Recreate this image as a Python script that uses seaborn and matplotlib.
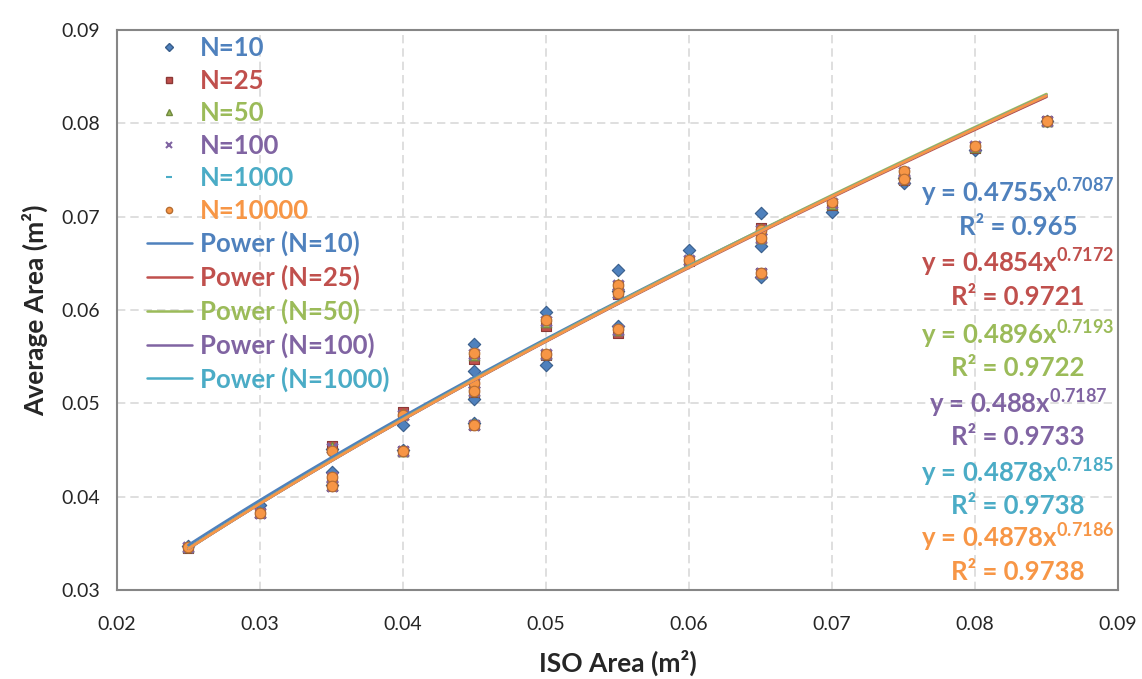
import numpy as np
import pandas as pd
import matplotlib
matplotlib.use("Agg")
import matplotlib.pyplot as plt
from matplotlib.lines import Line2D
import seaborn as sns

# ---------------- data ----------------
series_names = ["N=10", "N=25", "N=50", "N=100", "N=1000", "N=10000"]
iso_area = [0.025, 0.030, 0.035, 0.035, 0.035, 0.040, 0.040, 0.045, 0.045, 0.045, 0.045,
            0.050, 0.050, 0.055, 0.055, 0.055, 0.060, 0.065, 0.065, 0.065, 0.070,
            0.075, 0.075, 0.080, 0.085]
avg_n10 = [0.0347, 0.0391, 0.0451, 0.0426, 0.0413, 0.0477, 0.0450, 0.0564, 0.0535, 0.0505, 0.0479,
           0.0598, 0.0541, 0.0643, 0.0620, 0.0583, 0.0664, 0.0704, 0.0669, 0.0635, 0.0705,
           0.0736, 0.0741, 0.0771, 0.0802]
avg_n25 = [0.0345, 0.0383, 0.0454, 0.0420, 0.0411, 0.0491, 0.0449, 0.0547, 0.0520, 0.0512, 0.0477,
           0.0583, 0.0552, 0.0625, 0.0617, 0.0575, 0.0653, 0.0688, 0.0678, 0.0640, 0.0712,
           0.0745, 0.0739, 0.0774, 0.0803]
avg_n50 = [0.0346, 0.0384, 0.0453, 0.0421, 0.0412, 0.0489, 0.0449, 0.0552, 0.0523, 0.0513, 0.0478,
           0.0587, 0.0553, 0.0628, 0.0619, 0.0579, 0.0655, 0.0687, 0.0677, 0.0640, 0.0714,
           0.0748, 0.0740, 0.0775, 0.0803]
avg_n100 = [0.0346, 0.0383, 0.0452, 0.0421, 0.0411, 0.0488, 0.0449, 0.0553, 0.0522, 0.0513, 0.0477,
            0.0588, 0.0553, 0.0627, 0.0618, 0.0579, 0.0654, 0.0686, 0.0677, 0.0640, 0.0715,
            0.0748, 0.0740, 0.0776, 0.0803]
avg_n1000 = [0.0346, 0.0383, 0.0450, 0.0421, 0.0411, 0.0488, 0.0449, 0.0554, 0.0522, 0.0513, 0.0477,
             0.0589, 0.0553, 0.0627, 0.0618, 0.0580, 0.0654, 0.0686, 0.0677, 0.0640, 0.0716,
             0.0749, 0.0740, 0.0776, 0.0803]
avg_n10000 = [0.0346, 0.0383, 0.0449, 0.0421, 0.0411, 0.0488, 0.0449, 0.0554, 0.0522, 0.0513, 0.0477,
              0.0589, 0.0553, 0.0627, 0.0618, 0.0580, 0.0654, 0.0686, 0.0677, 0.0640, 0.0716,
              0.0749, 0.0740, 0.0776, 0.0803]
series_values = [avg_n10, avg_n25, avg_n50, avg_n100, avg_n1000, avg_n10000]

# power trendline coefficients y = a * x^b
coef_a = [0.4755, 0.4854, 0.4896, 0.488, 0.4878, 0.4878]
coef_b = [0.7087, 0.7172, 0.7193, 0.7187, 0.7185, 0.7186]
r_squared = [0.965, 0.9721, 0.9722, 0.9733, 0.9738, 0.9738]
a_labels = ["0.4755", "0.4854", "0.4896", "0.488", "0.4878", "0.4878"]
b_labels = ["0.7087", "0.7172", "0.7193", "0.7187", "0.7185", "0.7186"]
r2_labels = ["0.965", "0.9721", "0.9722", "0.9733", "0.9738", "0.9738"]

x_ticks = [0.02, 0.03, 0.04, 0.05, 0.06, 0.07, 0.08, 0.09]
y_ticks = [0.03, 0.04, 0.05, 0.06, 0.07, 0.08, 0.09]

# ---------------- style ----------------
colors = ["#4F81BD", "#C0504D", "#9BBB59", "#8064A2", "#4BACC6", "#F79646"]
edge_colors = ["#385D8A", "#8C3836", "#71893F", "#5C4776", "#357D91", "#B66D31"]
markers = ["D", "s", "^", "x", "_", "o"]

sns.set_theme(style="white")
FONT = "Lato"
plt.rcParams["font.family"] = [FONT, "DejaVu Sans"]
plt.rcParams["mathtext.fontset"] = "custom"
plt.rcParams["mathtext.rm"] = FONT + ":bold"
plt.rcParams["mathtext.bf"] = FONT + ":bold"
plt.rcParams["mathtext.it"] = FONT + ":bold"
plt.rcParams["mathtext.default"] = "rm"

fig = plt.figure(figsize=(11.42, 6.79), dpi=100)
ax = fig.add_axes([117 / 1142, 1 - 590 / 679, (1118 - 117) / 1142, (590 - 30) / 679])

rows = []
for name, vals in zip(series_names, series_values):
    for xv, yv in zip(iso_area, vals):
        rows.append({"iso": xv, "avg": yv, "series": name})
df = pd.DataFrame(rows)

for i, name in enumerate(series_names):
    sub = df[df["series"] == name]
    if markers[i] in ("x", "_"):
        sns.scatterplot(data=sub, x="iso", y="avg", marker=markers[i], color=colors[i],
                        s=55, linewidth=2.2, ax=ax, legend=False, zorder=3 + i)
    else:
        sns.scatterplot(data=sub, x="iso", y="avg", marker=markers[i], color=colors[i],
                        edgecolor=edge_colors[i], s=58 if markers[i] != "D" else 40,
                        linewidth=0.8, ax=ax, legend=False, zorder=3 + i)

# trendlines
x_min, x_max = min(iso_area), max(iso_area)
for i, name in enumerate(series_names):
    xs = np.linspace(x_min, x_max, 100)
    ys = coef_a[i] * xs ** coef_b[i]
    tl = pd.DataFrame({"x": xs, "y": ys})
    sns.lineplot(data=tl, x="x", y="y", color=colors[i], linewidth=2.0, ax=ax,
                 legend=False, zorder=10 + i)

ax.set_xlim(0.02, 0.09)
ax.set_ylim(0.03, 0.09)
ax.set_xticks(x_ticks)
ax.set_yticks(y_ticks)
ax.set_xticklabels([f"{t:.2f}" for t in x_ticks])
ax.set_yticklabels([f"{t:.2f}" for t in y_ticks])
ax.tick_params(axis="both", labelsize=14, labelcolor="#262626", length=5, width=1.2,
               color="#868686", direction="out")
ax.tick_params(axis="y", pad=7)
ax.tick_params(axis="x", pad=14)
ax.grid(True, color="#D9D9D9", linestyle=(0, (5, 3)), linewidth=1.2)
ax.set_axisbelow(True)
for sp in ax.spines.values():
    sp.set_color("#868686")
    sp.set_linewidth(1.5)

ax.set_xlabel("ISO Area (m²)", fontsize=19, fontweight="bold", color="#262626", labelpad=12)
ax.set_ylabel("Average Area (m²)", fontsize=19, fontweight="bold", color="#262626", labelpad=10)

# legend
handles = []
labels = []
for i, name in enumerate(series_names):
    if markers[i] in ("x", "_"):
        h = Line2D([], [], marker=markers[i], linestyle="", color=colors[i],
                   markersize=5, markeredgewidth=1.5)
    else:
        h = Line2D([], [], marker=markers[i], linestyle="", color=colors[i],
                   markeredgecolor=edge_colors[i], markersize=4.5 if markers[i] != "D" else 4)
    handles.append(h)
    labels.append(name)
for i in range(5):
    handles.append(Line2D([], [], color=colors[i], linewidth=1.8))
    labels.append(f"Power ({series_names[i]})")
leg = ax.legend(handles, labels, loc="upper left", bbox_to_anchor=(0.012, 1.021),
                frameon=False, labelspacing=0.33, handlelength=1.75,
                handletextpad=0.3, borderpad=0.2, prop={"weight": "bold", "size": 18.5})
for t, c in zip(leg.get_texts(), colors + colors[:5]):
    t.set_color(c)

# trendline equations
eq_y = [193, 263, 335, 404, 473, 538]
r2_y = [227, 297, 368, 437, 506, 572]
x_center = (1018 - 117) / 1001
for i in range(6):
    ax.text(x_center, 1 - (eq_y[i] - 30) / 560,
            f"y = {a_labels[i]}x$^{{{b_labels[i]}}}$",
            transform=ax.transAxes, ha="center", va="center",
            fontsize=18.5, fontweight="bold", color=colors[i], zorder=20)
    ax.text(x_center, 1 - (r2_y[i] - 30) / 560,
            f"R² = {r2_labels[i]}",
            transform=ax.transAxes, ha="center", va="center",
            fontsize=18.5, fontweight="bold", color=colors[i], zorder=20)

fig.savefig("out.png", dpi=100)
